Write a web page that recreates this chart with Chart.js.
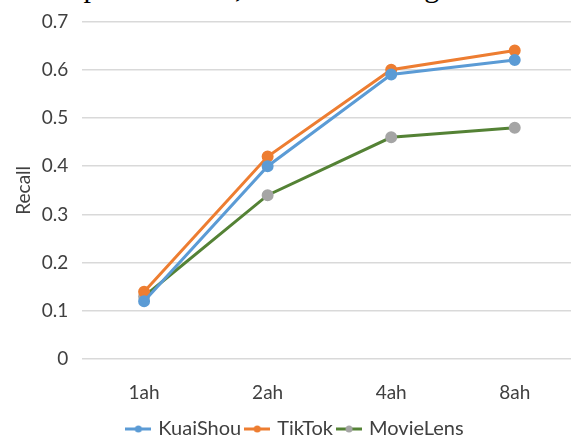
<!DOCTYPE html>
<html><head><meta charset="utf-8">
<script src="https://cdn.jsdelivr.net/npm/chart.js@4/dist/chart.umd.min.js"></script>
<style>
html,body{margin:0;padding:0;background:#fff;overflow:hidden;width:571px;height:442px;}
#wrap{position:absolute;left:0;top:-2px;width:584px;height:444px;}
#cap{position:absolute;left:1px;top:-28px;font-family:"Liberation Serif",serif;font-size:30px;line-height:30px;white-space:nowrap;color:#000;}
</style></head>
<body>
<div id="cap">model performance, as shown in Figure 6 below</div>
<div id="wrap"><canvas id="c" width="584" height="444"></canvas></div>
<script>
const categories = ["1ah","2ah","4ah","8ah"];
const kuaishou = [0.12, 0.40, 0.59, 0.62];
const tiktok = [0.14, 0.42, 0.60, 0.64];
const movielens = [0.13, 0.34, 0.46, 0.48];
const yTicks = [0,0.1,0.2,0.3,0.4,0.5,0.6,0.7];

function legendIcon(line, dot){
  const c=document.createElement('canvas'); c.width=26; c.height=10;
  const g=c.getContext('2d');
  g.strokeStyle=line; g.lineWidth=3; g.beginPath(); g.moveTo(0,5); g.lineTo(26,5); g.stroke();
  g.fillStyle=dot; g.beginPath(); g.arc(13,5,3.5,0,Math.PI*2); g.fill();
  return c;
}
const series=[
  {label:"KuaiShou", data:kuaishou, line:"#5B9BD5", dot:"#5B9BD5"},
  {label:"TikTok", data:tiktok, line:"#ED7D31", dot:"#ED7D31"},
  {label:"MovieLens", data:movielens, line:"#548235", dot:"#A5A5A5"}
];
const icons=series.map(s=>legendIcon(s.line,s.dot));
const font="Lato, 'Open Sans', sans-serif";
new Chart(document.getElementById('c'),{
  type:'line',
  data:{labels:categories,datasets:series.map(s=>({
    label:s.label,data:s.data,borderColor:s.line,backgroundColor:s.dot,
    pointBackgroundColor:s.dot,pointBorderColor:s.dot,pointRadius:4.5,pointHoverRadius:4.5,
    borderWidth:3,tension:0,fill:false,pointStyle:'circle'
  }))},
  options:{
    responsive:false,animation:false,
    layout:{padding:{top:18,left:12,right:4,bottom:-7}},
    plugins:{
      legend:{position:'bottom',onClick:null,
        labels:{usePointStyle:true,color:'#404040',font:{family:font,size:20},padding:6,boxWidth:26,
          generateLabels:(chart)=>chart.data.datasets.map((d,i)=>({
            text:d.label,pointStyle:icons[i],fillStyle:d.backgroundColor,strokeStyle:d.borderColor,
            lineWidth:0,hidden:false,datasetIndex:i,fontColor:'#404040'}))}},
      tooltip:{enabled:false}
    },
    scales:{
      x:{offset:true,grid:{display:false},border:{display:false},
        afterFit:s=>{s.height-=5;},
        ticks:{color:'#404040',font:{family:font,size:19},padding:14}},
      y:{min:0,max:0.7,afterBuildTicks:a=>{a.ticks=yTicks.map(v=>({value:v}));},
        grid:{color:'#D9D9D9',lineWidth:1.5,drawTicks:false},border:{display:false},
        ticks:{color:'#404040',font:{family:font,size:19,lineHeight:1},padding:14,callback:v=>String(+v.toFixed(1))},
        title:{display:true,text:'Recall',color:'#404040',font:{family:font,size:19},padding:{top:0,bottom:-7}}}
    }
  }
});
</script>
</body></html>
